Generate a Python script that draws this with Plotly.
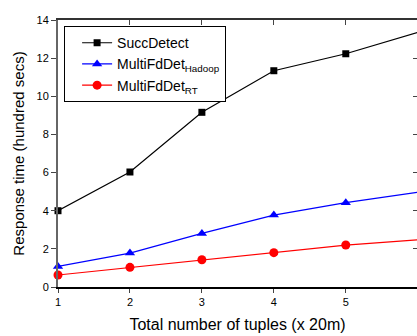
import plotly.graph_objects as go

# Dataset sizes (x 20m tuples)
tuples = [1, 2, 3, 4, 5, 6]

# Response time in hundreds of seconds
succ_detect = [4.0, 6.03, 9.16, 11.34, 12.23, 13.35]
multi_hadoop = [1.08, 1.78, 2.81, 3.77, 4.42, 4.97]
multi_rt = [0.63, 1.03, 1.43, 1.80, 2.20, 2.47]

x_ticks = [1, 2, 3, 4, 5]
y_ticks = [0, 2, 4, 6, 8, 10, 12, 14]

FONT = "Liberation Sans, Arial, sans-serif"

fig = go.Figure()

series = [
    ("SuccDetect", succ_detect, "black", "square", 7),
    ("MultiFdDet<sub>Hadoop</sub>", multi_hadoop, "blue", "triangle-up", 9),
    ("MultiFdDet<sub>RT</sub>", multi_rt, "red", "circle", 9),
]
for name, ys, color, symbol, size in series:
    fig.add_trace(go.Scatter(
        x=tuples, y=ys, name=name, mode="lines+markers",
        line=dict(color=color, width=1.2),
        marker=dict(symbol=symbol, size=size, color=color),
        cliponaxis=False,
    ))

x_range = [1, 5.99]
y_range = [0, 14]

fig.update_layout(
    width=417, height=336,
    margin=dict(l=58, r=0, t=20, b=49),
    paper_bgcolor="white", plot_bgcolor="white",
    font=dict(family=FONT, color="black"),
    showlegend=True,
    legend=dict(
        x=0.017, y=0.977, xanchor="left", yanchor="top",
        bgcolor="white", bordercolor="black", borderwidth=1,
        font=dict(family=FONT, size=14, color="black"),
        itemwidth=30, tracegroupgap=0, indentation=12,
    ),
    xaxis=dict(
        range=x_range, tickvals=x_ticks, ticks="outside", ticklen=4,
        tickfont=dict(size=11), showgrid=False, zeroline=False,
        showline=True, linecolor="black", linewidth=1.5,
        title=dict(text="Total number of tuples (x 20m)", font=dict(size=16), standoff=12),
    ),
    yaxis=dict(
        range=y_range, tickvals=y_ticks, ticks="outside", ticklen=5,
        tickfont=dict(size=11), showgrid=False, zeroline=False,
        showline=True, linecolor="#666666", linewidth=2,
        title=dict(text="Response time (hundred secs)", font=dict(size=15), standoff=8),
    ),
    xaxis2=dict(
        overlaying="x", side="top", range=x_range, tickvals=x_ticks,
        ticks="inside", ticklen=5, showticklabels=False, showgrid=False,
        zeroline=False, showline=True, linecolor="#333333", linewidth=1.5,
    ),
    yaxis2=dict(
        overlaying="y", side="right", range=y_range, tickvals=y_ticks,
        ticks="inside", ticklen=4, showticklabels=False, showgrid=False,
        zeroline=False, showline=True, linecolor="black", linewidth=1,
    ),
)

# invisible trace to anchor the mirrored top/right axes
fig.add_trace(go.Scatter(x=[tuples[0]], y=[succ_detect[0]], xaxis="x2", yaxis="y2",
                         mode="markers", marker=dict(opacity=0), showlegend=False,
                         hoverinfo="skip"))

fig.write_html("out.html")
